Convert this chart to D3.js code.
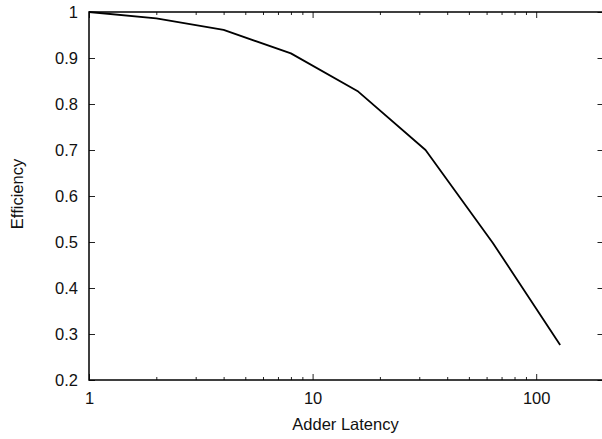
<!DOCTYPE html>
<html>
<head>
<meta charset="utf-8">
<script src="https://cdn.jsdelivr.net/npm/d3@7"></script>
<style>
  body { margin: 0; background: #fff; }
  text { font-family: 'Liberation Sans', Arial, sans-serif; fill: #111; }
</style>
</head>
<body>
<svg width="602" height="439"></svg>
<script>
// adder latency vs efficiency
const latency = [1, 2, 4, 8, 16, 32, 64, 128]
const efficiency = [1.0, 0.986, 0.961, 0.910, 0.827, 0.700, 0.498, 0.276]

const xMajor = [1, 10, 100]
const xLabels = ['1', '10', '100']
const yTicks = [0.2, 0.3, 0.4, 0.5, 0.6, 0.7, 0.8, 0.9, 1]
const yLabels = ['0.2', '0.3', '0.4', '0.5', '0.6', '0.7', '0.8', '0.9', '1']

const svg = d3.select('svg')
const plotLeft = 89
const plotRight = 603.5
const plotTop = 12
const plotBottom = 380

const x = d3.scaleLog().domain([1, 200]).range([plotLeft, plotRight])
const y = d3.scaleLinear().domain([0.2, 1]).range([plotBottom, plotTop])

// minor ticks 2..9 per decade
const xMinor = []
for (let p = 1; p <= 100; p *= 10) {
  for (let k = 2; k <= 9; k++) if (p * k <= 200) xMinor.push(p * k)
}

const fs = '16.5px'

function styleAxis (g) {
  g.select('.domain').remove()
  g.selectAll('.tick line').attr('stroke', '#222').attr('stroke-width', 1)
  g.selectAll('.tick text').style('font-size', fs).attr('fill', '#111')
}

svg.append('g')
  .attr('transform', `translate(0,${plotBottom})`)
  .call(d3.axisBottom(x).tickValues(xMajor).tickSize(-6).tickSizeOuter(0).tickPadding(12)
    .tickFormat((d, i) => xLabels[i]))
  .call(styleAxis)

svg.append('g')
  .attr('transform', `translate(0,${plotBottom})`)
  .call(d3.axisBottom(x).tickValues(xMinor).tickSize(-3).tickSizeOuter(0).tickFormat(''))
  .call(styleAxis)

svg.append('g')
  .attr('transform', `translate(0,${plotTop})`)
  .call(d3.axisTop(x).tickValues(xMajor).tickSize(-6).tickSizeOuter(0).tickFormat(''))
  .call(styleAxis)

svg.append('g')
  .attr('transform', `translate(0,${plotTop})`)
  .call(d3.axisTop(x).tickValues(xMinor).tickSize(-3).tickSizeOuter(0).tickFormat(''))
  .call(styleAxis)

svg.append('g')
  .attr('transform', `translate(${plotLeft},0)`)
  .call(d3.axisLeft(y).tickValues(yTicks).tickSize(-6).tickSizeOuter(0).tickPadding(11)
    .tickFormat((d, i) => yLabels[i]))
  .call(styleAxis)

svg.append('g')
  .attr('transform', `translate(${plotRight},0)`)
  .call(d3.axisRight(y).tickValues(yTicks).tickSize(-6).tickSizeOuter(0).tickFormat(''))
  .call(styleAxis)

// frame
svg.append('rect')
  .attr('x', plotLeft)
  .attr('y', plotTop)
  .attr('width', plotRight - plotLeft)
  .attr('height', plotBottom - plotTop)
  .attr('fill', 'none')
  .attr('stroke', '#000')
  .attr('stroke-width', 1.5)

const line = d3.line()
  .x(d => x(d[0]))
  .y(d => y(d[1]))

svg.append('path')
  .datum(latency.map((d, i) => [d, efficiency[i]]))
  .attr('fill', 'none')
  .attr('stroke', '#000')
  .attr('stroke-width', 1.8)
  .attr('stroke-linejoin', 'round')
  .attr('d', line)

svg.append('text')
  .attr('x', 345.5)
  .attr('y', 430)
  .attr('text-anchor', 'middle')
  .style('font-size', fs)
  .text('Adder Latency')

svg.append('text')
  .attr('transform', 'translate(23,194) rotate(-90)')
  .attr('text-anchor', 'middle')
  .style('font-size', fs)
  .text('Efficiency')
</script>
</body>
</html>
